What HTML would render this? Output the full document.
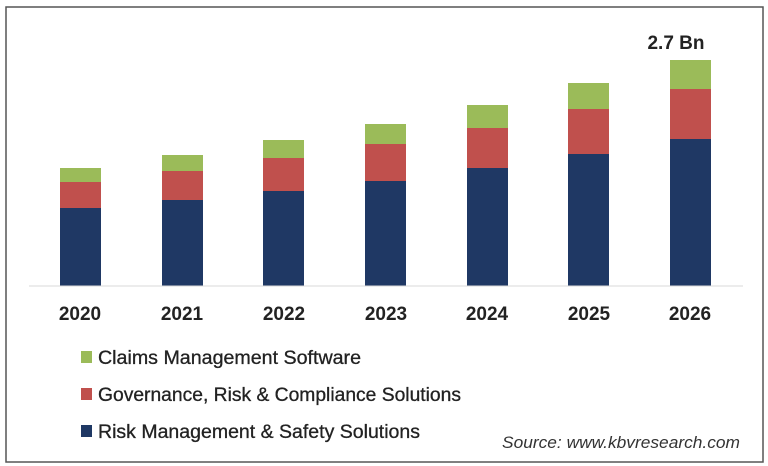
<!DOCTYPE html>
<html><head><style>body{margin:0;background:#fff}svg{display:block}</style></head><body>
<svg width="768" height="466" xmlns="http://www.w3.org/2000/svg" font-family="Liberation Sans, sans-serif">
<rect x="0" y="0" width="768" height="466" fill="#fff"/>
<rect x="6" y="7" width="757" height="455" fill="#fff" stroke="#555" stroke-width="1.5"/>
<g>
<rect x="60" y="208" width="41" height="78" fill="#1f3864"/><rect x="60" y="182" width="41" height="26" fill="#c0504d"/><rect x="60" y="168" width="41" height="14" fill="#9bbb59"/>
<rect x="162" y="200" width="41" height="86" fill="#1f3864"/><rect x="162" y="171" width="41" height="29" fill="#c0504d"/><rect x="162" y="155" width="41" height="16" fill="#9bbb59"/>
<rect x="263" y="191" width="41" height="95" fill="#1f3864"/><rect x="263" y="158" width="41" height="33" fill="#c0504d"/><rect x="263" y="140" width="41" height="18" fill="#9bbb59"/>
<rect x="365" y="181" width="41" height="105" fill="#1f3864"/><rect x="365" y="144" width="41" height="37" fill="#c0504d"/><rect x="365" y="124" width="41" height="20" fill="#9bbb59"/>
<rect x="467" y="168" width="41" height="118" fill="#1f3864"/><rect x="467" y="128" width="41" height="40" fill="#c0504d"/><rect x="467" y="105" width="41" height="23" fill="#9bbb59"/>
<rect x="568" y="154" width="41" height="132" fill="#1f3864"/><rect x="568" y="109" width="41" height="45" fill="#c0504d"/><rect x="568" y="83" width="41" height="26" fill="#9bbb59"/>
<rect x="670" y="139" width="41" height="147" fill="#1f3864"/><rect x="670" y="89" width="41" height="50" fill="#c0504d"/><rect x="670" y="60" width="41" height="29" fill="#9bbb59"/>
</g>
<line x1="29" y1="286" x2="743" y2="286" stroke="#d9d9d9" stroke-width="1"/>
<g font-size="19" font-weight="bold" fill="#222" text-anchor="middle">
<text x="80" y="320">2020</text><text x="182" y="320">2021</text><text x="284" y="320">2022</text><text x="386" y="320">2023</text><text x="487" y="320">2024</text><text x="589" y="320">2025</text><text x="690" y="320">2026</text>
<text x="676" y="49">2.7 Bn</text>
</g>
<rect x="81" y="351" width="11" height="12" fill="#9bbb59"/>
<rect x="81" y="388" width="11" height="12" fill="#c0504d"/>
<rect x="81" y="425" width="11" height="12" fill="#1f3864"/>
<g font-size="19" fill="#222" stroke="#222" stroke-width="0.3">
<text x="98" y="364" textLength="263" lengthAdjust="spacingAndGlyphs">Claims Management Software</text>
<text x="98" y="401" textLength="363" lengthAdjust="spacingAndGlyphs">Governance, Risk &amp; Compliance Solutions</text>
<text x="98" y="438" textLength="322" lengthAdjust="spacingAndGlyphs">Risk Management &amp; Safety Solutions</text>
</g>
<text x="502" y="448" font-size="17" font-style="italic" fill="#333" textLength="238" lengthAdjust="spacingAndGlyphs">Source: www.kbvresearch.com</text>
</svg>
</body></html>
